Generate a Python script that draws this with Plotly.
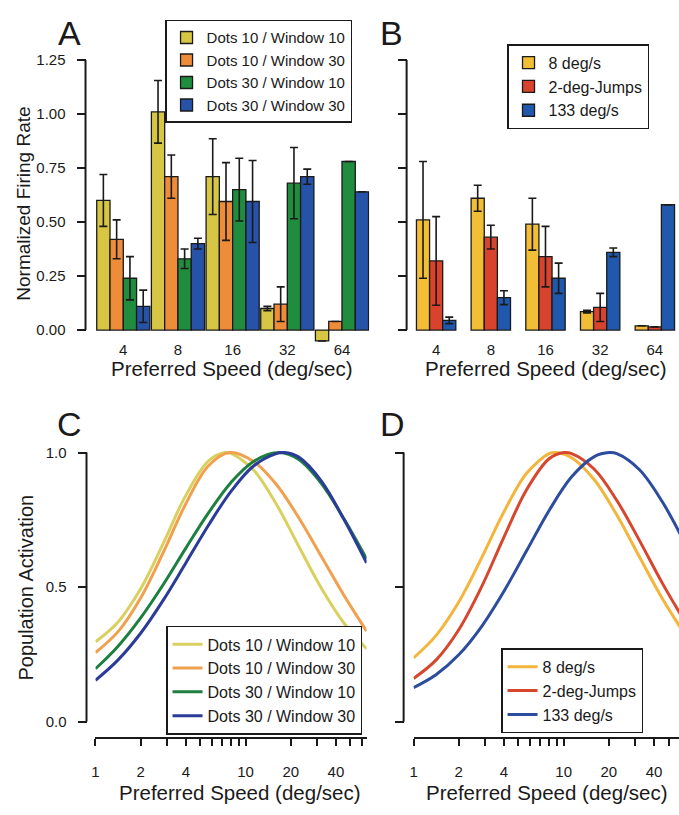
import plotly.graph_objects as go

W, H = 679, 815
nan = float('nan')
FONT = "Liberation Sans, Arial, sans-serif"

# ---------------- data ----------------
speed_cats = ['4', '8', '16', '32', '64']

# Panel A
a_names = ['Dots 10 / Window 10', 'Dots 10 / Window 30', 'Dots 30 / Window 10', 'Dots 30 / Window 30']
a_d10w10 = [0.60, 1.01, 0.71, 0.10, -0.05]
a_d10w10_err = [0.12, 0.145, 0.175, 0.01, nan]
a_d10w30 = [0.42, 0.71, 0.595, 0.12, 0.04]
a_d10w30_err = [0.09, 0.10, 0.18, 0.08, nan]
a_d30w10 = [0.24, 0.33, 0.65, 0.68, 0.78]
a_d30w10_err = [0.10, 0.045, 0.145, 0.165, nan]
a_d30w30 = [0.11, 0.40, 0.595, 0.71, 0.64]
a_d30w30_err = [0.075, 0.025, 0.19, 0.035, nan]

# Panel B
b_names = ['8 deg/s', '2-deg-Jumps', '133 deg/s']
b_8 = [0.51, 0.61, 0.49, 0.086, 0.02]
b_8_err = [0.27, 0.06, 0.12, 0.006, nan]
b_jumps = [0.32, 0.43, 0.34, 0.105, 0.015]
b_jumps_err = [0.205, 0.055, 0.14, 0.065, nan]
b_133 = [0.045, 0.15, 0.24, 0.36, 0.58]
b_133_err = [0.015, 0.032, 0.07, 0.02, nan]

# Panel C (population activation curves)
c_y_x = [1, 1.41, 2, 2.83, 4, 5.66, 7.26, 8, 11.3, 16, 22.6, 32, 45.3, 64]
c_y_v = [0.297, 0.370, 0.494, 0.663, 0.841, 0.969, 1.0, 0.997, 0.935, 0.809, 0.652, 0.496, 0.366, 0.271]
c_o_x = [1, 1.41, 2, 2.83, 4, 5.66, 7.84, 11.3, 16, 22.6, 32, 45.3, 64]
c_o_v = [0.257, 0.334, 0.460, 0.629, 0.810, 0.951, 1.0, 0.967, 0.882, 0.758, 0.614, 0.469, 0.337]
c_g_x = [1, 1.41, 2, 2.83, 4, 5.66, 8, 11.3, 16.8, 22.6, 32, 45.3, 64]
c_g_v = [0.197, 0.280, 0.386, 0.510, 0.645, 0.776, 0.889, 0.967, 1.0, 0.974, 0.885, 0.753, 0.605]
c_b_x = [1, 1.41, 2, 2.83, 4, 5.66, 8, 11.3, 16, 18.1, 22.6, 32, 45.3, 64]
c_b_v = [0.154, 0.229, 0.329, 0.452, 0.590, 0.730, 0.856, 0.950, 0.996, 1.0, 0.983, 0.894, 0.751, 0.590]

# Panel D
d_y_x = [1, 1.41, 2, 2.83, 4, 5.66, 8, 8.81, 11.3, 16, 22.6, 32, 45.3, 64]
d_y_v = [0.237, 0.320, 0.445, 0.607, 0.780, 0.923, 0.996, 1.0, 0.981, 0.899, 0.768, 0.612, 0.459, 0.325]
d_r_x = [1, 1.41, 2, 2.83, 4, 5.66, 8, 10.06, 11.3, 16, 22.6, 32, 45.3, 64]
d_r_v = [0.161, 0.229, 0.342, 0.500, 0.686, 0.862, 0.977, 1.0, 0.996, 0.938, 0.822, 0.673, 0.516, 0.373]
d_b_x = [1, 1.41, 2, 2.83, 4, 5.66, 8, 11.3, 16, 20.1, 22.6, 32, 45.3, 64]
d_b_v = [0.127, 0.175, 0.249, 0.353, 0.485, 0.635, 0.785, 0.910, 0.985, 1.0, 0.996, 0.936, 0.818, 0.665]

bar_yticks = [0, 0.25, 0.5, 0.75, 1.0, 1.25]
bar_yticktext = ['0.00', '0.25', '0.50', '0.75', '1.00', '1.25']
act_yticks = [0, 0.5, 1.0]
act_yticktext = ['0.0', '0.5', '1.0']
log_ticks = [1, 2, 3, 4, 5, 6, 7, 8, 9, 10, 20, 30, 40, 50, 60]
log_ticktext = ['1', '2', '', '4', '', '', '', '', '', '10', '20', '', '40', '', '']

# ---------------- styling ----------------
a_colors = ['#D6C643', '#EE8C3A', '#1F8C3E', '#2652A8']
b_colors = ['#F2BE36', '#D8432E', '#2058AE']
c_colors = ['#D9D060', '#F0A04E', '#1E8040', '#2A3C98']
d_colors = ['#F3B53C', '#D6472E', '#2C4C9E']
INK = '#1a1a1a'


def px(x):
    return x / W


def py(y):
    return 1 - y / H


fig = go.Figure()

# Panel A bars
a_vals = [a_d10w10, a_d10w30, a_d30w10, a_d30w30]
a_errs = [a_d10w10_err, a_d10w30_err, a_d30w10_err, a_d30w30_err]
bw_a = 0.243
for i in range(4):
    fig.add_trace(go.Bar(
        x=speed_cats, y=a_vals[i], name=a_names[i],
        width=bw_a, offset=-2 * bw_a + i * bw_a,
        marker=dict(color=a_colors[i], line=dict(color=INK, width=1.3)),
        error_y=dict(type='data', array=a_errs[i], visible=True, color=INK, thickness=1.6, width=4),
        xaxis='x', yaxis='y', legend='legend'))

# Panel B bars
b_vals = [b_8, b_jumps, b_133]
b_errs = [b_8_err, b_jumps_err, b_133_err]
bw_b = 0.24
for i in range(3):
    fig.add_trace(go.Bar(
        x=speed_cats, y=b_vals[i], name=b_names[i],
        width=bw_b, offset=-1.5 * bw_b + i * bw_b,
        marker=dict(color=b_colors[i], line=dict(color=INK, width=1.3)),
        error_y=dict(type='data', array=b_errs[i], visible=True, color=INK, thickness=1.6, width=4),
        xaxis='x2', yaxis='y2', legend='legend2'))

# Panel C curves
for xs, vs, col, nm in zip([c_y_x, c_o_x, c_g_x, c_b_x], [c_y_v, c_o_v, c_g_v, c_b_v], c_colors, a_names):
    fig.add_trace(go.Scatter(x=xs, y=vs, mode='lines', name=nm,
                             line=dict(color=col, width=3, shape='spline', smoothing=1.0),
                             xaxis='x3', yaxis='y3', legend='legend3'))

# Panel D curves
for xs, vs, col, nm in zip([d_y_x, d_r_x, d_b_x], [d_y_v, d_r_v, d_b_v], d_colors, b_names):
    fig.add_trace(go.Scatter(x=xs, y=vs, mode='lines', name=nm,
                             line=dict(color=col, width=3, shape='spline', smoothing=1.0),
                             xaxis='x4', yaxis='y4', legend='legend4'))

tickfont = dict(family=FONT, size=15, color=INK)

# bar panel y domain: 0 at 328 px, 1.25 at 52 px, range bottom -0.06
bar_ydom = [py(341.2), py(52)]
act_ydom = [py(728), py(728 - 275 * 1.012)]

common_y_bar = dict(range=[-0.06, 1.25], domain=bar_ydom, showgrid=False, zeroline=False,
                    showline=False, ticks='outside', ticklen=9, tickwidth=2, tickcolor=INK,
                    tickvals=bar_yticks, tickfont=tickfont, anchor='free', ticklabelstandoff=8)

legend_common = dict(xanchor='left', yanchor='top', bgcolor='white', bordercolor=INK,
                     borderwidth=1.5, tracegroupgap=0)

fig.update_layout(
    width=W, height=H, margin=dict(l=0, r=0, t=0, b=0),
    paper_bgcolor='white', plot_bgcolor='rgba(0,0,0,0)',
    barmode='overlay', font=dict(family=FONT, color=INK),
    xaxis=dict(type='category', domain=[px(92.5), px(367.5)], range=[-0.5, 4.5],
               showgrid=False, zeroline=False, showline=False, ticks='', tickfont=tickfont,
               anchor='y', ticklabelstandoff=-4),
    yaxis=dict(common_y_bar, position=px(82), ticktext=bar_yticktext),
    xaxis2=dict(type='category', domain=[px(407.2), 1.0], range=[-0.5, -0.5 + (679 - 407.2) / 55.0],
                showgrid=False, zeroline=False, showline=False, ticks='', tickfont=tickfont,
                anchor='y2', ticklabelstandoff=-4),
    yaxis2=dict(common_y_bar, position=px(405), showticklabels=False),
    xaxis3=dict(type='log', domain=[px(92), px(92 + 151 * 1.80618)], range=[0, 1.80618],
                showgrid=False, zeroline=False, showline=True, linewidth=2, linecolor=INK,
                ticks='outside', ticklen=7, tickwidth=2, tickcolor=INK,
                tickvals=log_ticks, ticktext=log_ticktext, tickfont=tickfont,
                anchor='free', position=py(745), ticklabelstandoff=13),
    yaxis3=dict(range=[0, 1.012], domain=act_ydom, showgrid=False, zeroline=False,
                showline=False, ticks='outside', ticklen=9, tickwidth=2, tickcolor=INK,
                tickvals=act_yticks, ticktext=act_yticktext, tickfont=tickfont,
                anchor='free', position=px(83), ticklabelstandoff=8),
    xaxis4=dict(type='log', domain=[px(412), 1.0], range=[0, (679 - 412) / 151.0],
                showgrid=False, zeroline=False, showline=True, linewidth=2, linecolor=INK,
                ticks='outside', ticklen=7, tickwidth=2, tickcolor=INK,
                tickvals=log_ticks, ticktext=log_ticktext, tickfont=tickfont,
                anchor='free', position=py(745), ticklabelstandoff=13),
    yaxis4=dict(range=[0, 1.012], domain=act_ydom, showgrid=False, zeroline=False,
                showline=False, ticks='outside', ticklen=9, tickwidth=2, tickcolor=INK,
                tickvals=act_yticks, showticklabels=False,
                anchor='free', position=px(402)),
    legend=dict(legend_common, x=px(162), y=py(11), font=dict(family=FONT, size=15, color=INK)),
    legend2=dict(legend_common, x=px(506), y=py(36), font=dict(family=FONT, size=16, color=INK)),
    legend3=dict(legend_common, x=px(163), y=py(630), font=dict(family=FONT, size=16, color=INK)),
    legend4=dict(legend_common, x=px(500), y=py(653), font=dict(family=FONT, size=16, color=INK)),
)

# y axis lines (span only the labelled range)
for xpos, yref, top in [(82, 'y', 1.25), (405, 'y2', 1.25), (83, 'y3', 1.0), (402, 'y4', 1.0)]:
    fig.add_shape(type='line', xref='paper', yref=yref, x0=px(xpos), x1=px(xpos), y0=0, y1=top,
                  line=dict(color=INK, width=2))

annos = [
    ('A', 66, 25, 34, 0), ('B', 390, 25, 34, 0), ('C', 66, 424, 34, 0), ('D', 391, 424, 34, 0),
    ('Normalized Firing Rate', 20, 199, 19, -90), ('Population Activation', 22, 591, 20, -90),
    ('Preferred Speed (deg/sec)', 229, 367, 20.5, 0), ('Preferred Speed (deg/sec)', 545, 367, 20.5, 0),
    ('Preferred Speed (deg/sec)', 237, 800, 20.5, 0), ('Preferred Speed (deg/sec)', 546, 800, 20.5, 0),
]
for txt, x, y, size, ang in annos:
    fig.add_annotation(text=txt, x=px(x), y=py(y), xref='paper', yref='paper', showarrow=False,
                       xanchor='center', yanchor='middle', textangle=ang,
                       font=dict(family=FONT, size=size, color=INK))

fig.write_html("out.html", config={'displayModeBar': False},
               post_script="document.body.style.margin='0';document.body.style.overflow='hidden';")
